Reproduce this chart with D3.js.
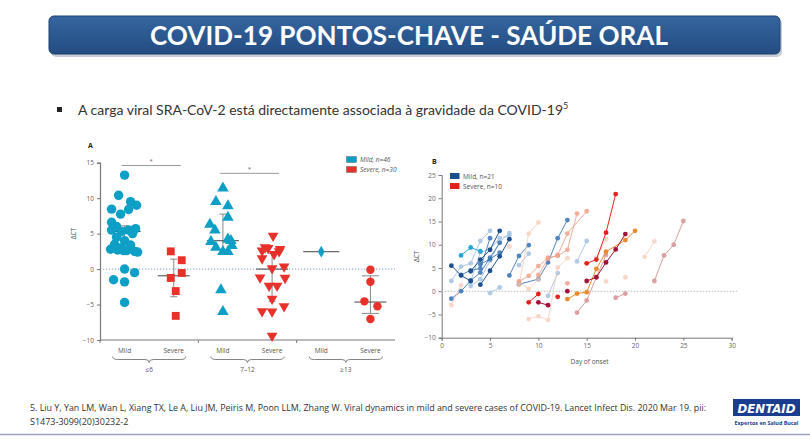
<!DOCTYPE html>
<html>
<head>
<meta charset="utf-8">
<title>COVID-19 pontos-chave</title>
<script src="https://d3js.org/d3.v7.min.js"></script>
<style>
  body { margin: 0; background: #fff; }
  text { font-family: "Open Sans", "DejaVu Sans", sans-serif; }
  .tick text { fill: #666; }
</style>
</head>
<body>
<div id="slide"></div>
<script>
// ---- panel A: ΔCT by days since onset ----
const groupsA = ["≤6", "7–12", "≥13"];
const catsA = ["Mild", "Severe", "Mild", "Severe", "Mild", "Severe"];
// [ΔCT, jitter in px]
const mildLe6 = [[13.25,0],[10.4,-6],[9.5,6],[9.0,12],[8.45,-13],[8.4,4],[7.75,-4],[6.6,-13],[6.0,-8],
  [5.7,11],[5.5,-13],[5.5,4],[5.3,-3],[5.0,8],[4.5,-8],[4.0,0],[3.5,-10],[3.4,6],[3.0,-3],[2.8,-14],
  [2.7,-7],[2.6,2],[2.5,10],[2.4,13],[2.6,-1],[0,0],[-0.5,10],[-1.5,-11],[-1.8,0],[-4.7,0]];
const severeLe6 = [[2.5,-3],[1.25,8],[-1.25,-3],[-0.55,8],[-3.1,2],[-6.6,2]];
const mild7to12 = [[11.4,0],[9.5,-7],[8.9,5],[7.3,5],[6.3,-13],[5.5,-8],[4.2,5],[4.0,8],[3.85,-12],
  [3.3,9],[3.05,-7],[2.45,0],[2.45,5],[-2.95,-2],[-6.0,0]];
const severe7to12 = [[4.7,1],[3.05,-7],[2.95,-4],[2.6,-10],[2.8,8],[2.1,2],[2.5,7],[1.5,-10],[0.1,0],
  [0.35,12],[-1.2,-12],[-1.25,13],[-2.35,-3],[-2.35,5],[-4.2,0],[-5.25,12],[-5.95,-10],[-6.0,0],[-9.4,0]];
const mildGe13 = [[2.45,0]];
const severeGe13 = [[-0.1,0],[-1.8,0],[-4.55,-6],[-5.25,7],[-7.05,0]];
const medianA = [5.3, -0.95, 4.0, 0.0, 2.45, -4.65];
const iqrA = [[2.35,6.1],[-3.9,1.4],[2.45,7.75],[-4.55,2.2],null,[-6.25,-0.95]];
const sigA = [[0, 1, 14.6], [2, 3, 13.5]];
const ticksA = [-10, -5, 0, 5, 10, 15];

// ---- panel B: ΔCT over day of onset, one line per patient ----
const mildLinesB = [
  [[1,5.5],[2,3.4],[3,2.2]],
  [[1,-1.6],[2,0.0],[3,2.3],[4,4.0],[5,7.2],[6,10.4]],
  [[2,7.7],[3,9.4],[4,8.6]],
  [[1,2.2],[2,5.3],[3,6.0],[4,10.8],[5,13.0]],
  [[3,4.3],[4,6.8],[5,8.9],[6,13.0]],
  [[3,1.1],[4,2.6],[5,6.6],[6,10.5],[7,12.5]],
  [[4,1.4],[5,4.4],[6,7.5],[7,11.2]],
  [[2,3.5],[3,4.5],[4,4.9],[5,11.4]],
  [[3,2.0],[4,8.4],[5,9.0],[6,11.4],[7,12.0]],
  [[5,-0.4],[6,0.8]],
  [[7,3.4],[8,7.6],[9,9.9]],
  [[8,5.6],[9,8.1]],
  [[8,1.5],[10,2.6],[11,6.2],[12,11.4],[13,15.3]],
  [[12,3.9],[11,-1.0]],
  [[14,6.4],[15,10.8]],
  [[4,5.8],[5,6.9],[6,8.3]]
];
const mildToneB = ["dark","mid","cyan","light","dark","light","dark","mid","light","light","mid","light","mid","light","light","mid"];
const severeLinesB = [
  [[15,6.0],[16,6.8],[17,12.6],[18,20.9]],
  [[15,2.2],[16,3.0],[17,6.2],[18,9.0],[19,12.3]],
  [[13,-1.7],[14,-0.5],[15,-0.2],[16,4.8],[17,8.5],[19,11.0],[20,13.0]],
  [[9,-2.4],[10,-0.6]],
  [[10,-2.4],[11,-3.0]],
  [[12,-1.2]],
  [[13,0.0]],
  [[8,2.1],[9,3.3],[10,5.4],[11,7.2],[12,7.6],[13,8.9],[14,16.7]],
  [[10,3.5],[11,7.0],[12,7.8],[13,12.4],[15,17.2]],
  [[8,1.3],[9,12.4],[10,14.8]],
  [[9,-6.0],[10,-5.4],[11,-6.2],[12,5.1],[13,7.1]],
  [[14,-4.6],[15,-2.0],[16,3.0],[17,7.8]],
  [[22,2.2],[23,7.7],[24,10.0],[25,15.1]],
  [[21,7.4],[22,10.7]],
  [[18,-1.4],[19,-0.5]],
  [[17,2.1]], [[19,3.0]], [[13,1.7]],
  [[1,-3.0],[2,1.3]],
  [[7,9.6]],
  [[8,2.0],[9,0.5],[10,2.5]],
  [[16,7.2],[17,11.2]]
];
const severeToneB = ["red","crimson","orange","red","crimson","red","crimson","salmon","salmon","faint","faint",
  "rose","rose","faint","rose","faint","faint","salmon","faint","faint","faint","faint"];
const ticksBx = [0, 5, 10, 15, 20, 25, 30];
const ticksBy = [-10, -5, 0, 5, 10, 15, 20, 25];

const svg = d3.select("#slide").append("svg")
  .attr("width", 810).attr("height", 439);

// ---- banner ----
const defs = svg.append("defs");
const grad = defs.append("linearGradient").attr("id", "ban").attr("x1", 0).attr("y1", 0).attr("x2", 0).attr("y2", 1);
grad.append("stop").attr("offset", "0%").attr("stop-color", "#36659f");
grad.append("stop").attr("offset", "100%").attr("stop-color", "#234c82");
svg.append("rect").attr("x", 51).attr("y", 19).attr("width", 731).attr("height", 38)
  .attr("rx", 5).attr("fill", "#c9ced6");
svg.append("rect").attr("x", 49).attr("y", 16).attr("width", 731).attr("height", 38)
  .attr("rx", 5).attr("fill", "url(#ban)").attr("stroke", "#1d416f").attr("stroke-width", 1);
svg.append("text").attr("x", 409).attr("y", 45).attr("text-anchor", "middle")
  .attr("textLength", 518).attr("lengthAdjust", "spacingAndGlyphs")
  .style("font-family", "Lato, 'Open Sans', sans-serif").style("font-weight", 700)
  .style("font-size", "27px").attr("fill", "#fff")
  .text("COVID-19 PONTOS-CHAVE - SAÚDE ORAL");

// ---- bullet ----
svg.append("rect").attr("x", 57).attr("y", 107).attr("width", 5).attr("height", 5).attr("fill", "#222");
const bullet = svg.append("text").attr("x", 78).attr("y", 115)
  .style("font-family", "Lato, 'Open Sans', sans-serif").style("font-size", "14px").attr("fill", "#333");
bullet.append("tspan")
  .text("A carga viral SRA-CoV-2 está directamente associada à gravidade da COVID-19");
bullet.append("tspan").attr("dy", -6).style("font-size", "9px").text("5");

// ================= PANEL A =================
const xA = d3.scaleBand().domain(d3.range(6)).range([100, 395]);
const yA = d3.scaleLinear().domain([-10, 15]).range([340, 162.7]);
const cA = i => xA(i) + xA.bandwidth() / 2;
const gA = svg.append("g");
const cyan = "#0d9fc6", red = "#e8312a";

gA.append("text").attr("x", 88).attr("y", 148).style("font-size", "7px").style("font-weight", 700)
  .attr("fill", "#222").text("A");

const axAy = gA.append("g").attr("transform", "translate(100,0)")
  .call(d3.axisLeft(yA).tickValues(ticksA).tickSize(3).tickPadding(3));
axAy.select(".domain").attr("stroke", "#777").attr("stroke-width", 1.2);
axAy.selectAll(".tick line").attr("stroke", "#777");
axAy.selectAll(".tick text").style("font-size", "6.5px");

gA.append("line").attr("x1", 100).attr("x2", 395).attr("y1", yA(-10)).attr("y2", yA(-10))
  .attr("stroke", "#777").attr("stroke-width", 1);
[0, 2, 4].forEach(k => {
  gA.append("line").attr("x1", xA(k)).attr("x2", xA(k)).attr("y1", yA(-10)).attr("y2", yA(-10) + 3)
    .attr("stroke", "#777");
});
gA.append("line").attr("x1", 100).attr("x2", 395).attr("y1", yA(0)).attr("y2", yA(0))
  .attr("stroke", "#5a7fa8").attr("stroke-dasharray", "1.2,1.8").attr("stroke-width", 0.8);

gA.append("text").attr("transform", `translate(76,${yA(5)}) rotate(-90)`).attr("text-anchor", "middle")
  .style("font-size", "6.5px").attr("fill", "#555").text("ΔCT");

catsA.forEach((c, i) => {
  gA.append("text").attr("x", cA(i)).attr("y", 353).attr("text-anchor", "middle")
    .style("font-size", "6.5px").attr("fill", "#555").text(c);
});
groupsA.forEach((g, k) => {
  const x0 = cA(2 * k) - 12, x1 = cA(2 * k + 1) + 12, xm = (x0 + x1) / 2, y = 356.5;
  gA.append("path")
    .attr("d", `M${x0},${y} Q${x0},${y + 3} ${x0 + 5},${y + 3} L${xm - 4},${y + 3} Q${xm},${y + 3} ${xm},${y + 6} ` +
      `Q${xm},${y + 3} ${xm + 4},${y + 3} L${x1 - 5},${y + 3} Q${x1},${y + 3} ${x1},${y}`)
    .attr("fill", "none").attr("stroke", "#666").attr("stroke-width", 0.8);
  gA.append("text").attr("x", xm).attr("y", 372).attr("text-anchor", "middle")
    .style("font-size", "6.5px").attr("fill", "#555").text(g);
});

sigA.forEach(([a, b, v]) => {
  gA.append("line").attr("x1", cA(a) - 3).attr("x2", cA(b) + 7).attr("y1", yA(v)).attr("y2", yA(v))
    .attr("stroke", "#999").attr("stroke-width", 1);
  gA.append("text").attr("x", (cA(a) + cA(b)) / 2 + 2).attr("y", yA(v) - 2.5).attr("text-anchor", "middle")
    .style("font-size", "6px").attr("fill", "#666").text("*");
});

// error bars + medians
medianA.forEach((m, i) => {
  const cx = cA(i), cap = i === 5 ? 8.5 : 3.5;
  if (iqrA[i]) {
    const [lo, hi] = iqrA[i];
    gA.append("line").attr("x1", cx).attr("x2", cx).attr("y1", yA(lo)).attr("y2", yA(hi))
      .attr("stroke", "#888").attr("stroke-width", 1);
    [lo, hi].forEach(v => gA.append("line").attr("x1", cx - cap).attr("x2", cx + cap)
      .attr("y1", yA(v)).attr("y2", yA(v)).attr("stroke", "#888").attr("stroke-width", 1));
  }
  const hw = i === 4 ? 18 : 16;
  gA.append("line").attr("x1", cx - hw).attr("x2", cx + hw).attr("y1", yA(m)).attr("y2", yA(m))
    .attr("stroke", "#444").attr("stroke-width", 1);
});

const setsA = [
  [mildLe6, d3.symbolCircle, 70, cyan, 0],
  [severeLe6, d3.symbolSquare, 62, red, 0],
  [mild7to12, d3.symbolTriangle, 58, cyan, 0],
  [severe7to12, d3.symbolTriangle, 50, red, 180],
  [mildGe13, d3.symbolDiamond, 40, cyan, 0],
  [severeGe13, d3.symbolCircle, 56, red, 0]
];
setsA.forEach(([pts, sym, size, col, rot], i) => {
  gA.selectAll(null).data(pts).enter().append("path")
    .attr("d", d3.symbol().type(sym).size(size))
    .attr("transform", d => `translate(${cA(i) + d[1]},${yA(d[0])}) rotate(${rot})`)
    .attr("fill", col);
});

// legend A
[["Mild, n=46", cyan], ["Severe, n=30", red]].forEach(([t, col], k) => {
  gA.append("rect").attr("x", 346.5).attr("y", 156.5 + k * 10).attr("width", 10).attr("height", 6)
    .attr("fill", col).attr("stroke", "#555").attr("stroke-width", 0.4);
  gA.append("text").attr("x", 360).attr("y", 162 + k * 10).style("font-size", "6.5px")
    .style("font-style", "italic").attr("fill", "#555").text(t);
});

// ================= PANEL B =================
const xB = d3.scaleLinear().domain([0, 30]).range([441.7, 731.7]);
const yB = d3.scaleLinear().domain([-10, 25]).range([337.7, 175]);
const gB = svg.append("g");
const mildCol = { dark: ["#1c4f8f", 1], mid: ["#3f78b8", 0.9], light: ["#a3c1e2", 0.85], cyan: ["#25a6d6", 1] };
const sevCol = { red: ["#e4221c", 1], crimson: ["#a3123a", 1], orange: ["#e98a2c", 1],
  salmon: ["#eea08a", 0.85], rose: ["#d68f8f", 0.85], faint: ["#f6c9b6", 0.75] };

gB.append("text").attr("x", 432).attr("y", 164).style("font-size", "7px").style("font-weight", 700)
  .attr("fill", "#222").text("B");

const axBy = gB.append("g").attr("transform", `translate(${xB(0)},0)`)
  .call(d3.axisLeft(yB).tickValues(ticksBy).tickSize(3).tickPadding(3));
const axBx = gB.append("g").attr("transform", `translate(0,${yB(-10)})`)
  .call(d3.axisBottom(xB).tickValues(ticksBx).tickSize(3).tickPadding(3));
[axBy, axBx].forEach(a => {
  a.select(".domain").attr("stroke", "#777");
  a.selectAll(".tick line").attr("stroke", "#777");
  a.selectAll(".tick text").style("font-size", "6.5px");
});
gB.append("line").attr("x1", xB(0)).attr("x2", xB(30.6)).attr("y1", yB(0)).attr("y2", yB(0))
  .attr("stroke", "#bbb").attr("stroke-dasharray", "1.5,1.5").attr("stroke-width", 1);
gB.append("text").attr("x", xB(15.3)).attr("y", 364).attr("text-anchor", "middle")
  .style("font-size", "6.5px").attr("fill", "#555").text("Day of onset");
gB.append("text").attr("transform", `translate(419,${yB(7.5)}) rotate(-90)`).attr("text-anchor", "middle")
  .style("font-size", "6.5px").attr("fill", "#555").text("ΔCT");

const lineB = d3.line().x(d => xB(d[0])).y(d => yB(d[1]));
function drawLines(lines, tones, pal) {
  lines.forEach((pts, i) => {
    const [col, op] = pal[tones[i]];
    const g = gB.append("g").attr("opacity", op);
    g.append("path").attr("d", lineB(pts)).attr("fill", "none").attr("stroke", col).attr("stroke-width", 1);
    g.selectAll(null).data(pts).enter().append("circle")
      .attr("cx", d => xB(d[0])).attr("cy", d => yB(d[1])).attr("r", 2.4).attr("fill", col);
  });
}
// faint first so strong colours sit on top
const order = (tones, weak) => tones.map((t, i) => i).sort((a, b) => weak.indexOf(tones[b]) - weak.indexOf(tones[a]));
const mo = order(mildToneB, ["dark", "cyan", "mid", "light"]);
drawLines(mo.map(i => mildLinesB[i]), mo.map(i => mildToneB[i]), mildCol);
const so = order(severeToneB, ["red", "crimson", "orange", "salmon", "rose", "faint"]);
drawLines(so.map(i => severeLinesB[i]), so.map(i => severeToneB[i]), sevCol);

[["Mild, n=21", "#1c4f8f"], ["Severe, n=10", "#e4221c"]].forEach(([t, col], k) => {
  gB.append("rect").attr("x", 450).attr("y", 173 + k * 10).attr("width", 9.5).attr("height", 6)
    .attr("fill", col);
  gB.append("text").attr("x", 463).attr("y", 178.5 + k * 10).style("font-size", "6.5px")
    .attr("fill", "#555").text(t);
});

// ---- footnote + logo ----
const foot = svg.append("g").style("font-family", "Lato, 'Open Sans', sans-serif").style("font-size", "9px").attr("fill", "#333");
foot.append("text").attr("x", 30).attr("y", 411).attr("textLength", 676).attr("lengthAdjust", "spacingAndGlyphs")
  .text("5. Liu Y, Yan LM, Wan L, Xiang TX, Le A, Liu JM, Peiris M, Poon LLM, Zhang W. Viral dynamics in mild and severe cases of COVID-19. Lancet Infect Dis. 2020 Mar 19. pii:");
foot.append("text").attr("x", 30).attr("y", 425).text("S1473-3099(20)30232-2");

svg.append("rect").attr("x", 733).attr("y", 399).attr("width", 67).attr("height", 17).attr("fill", "#1a3d8f");
svg.append("text").attr("x", 766.5).attr("y", 412.5).attr("text-anchor", "middle")
  .attr("textLength", 58).attr("lengthAdjust", "spacingAndGlyphs")
  .style("font-family", "'DejaVu Sans', sans-serif").style("font-weight", 700).style("font-style", "italic")
  .style("font-size", "12px").attr("fill", "#fff").text("DENTAID");
svg.append("text").attr("x", 766.5).attr("y", 425).attr("text-anchor", "middle")
  .attr("textLength", 64).attr("lengthAdjust", "spacingAndGlyphs")
  .style("font-size", "5.5px").style("font-weight", 700).attr("fill", "#1a3d8f").text("Expertos en Salud Bucal");

svg.append("line").attr("x1", 0).attr("x2", 810).attr("y1", 434.5).attr("y2", 434.5)
  .attr("stroke", "#9aa3c4").attr("stroke-width", 1.5);
</script>
</body>
</html>
